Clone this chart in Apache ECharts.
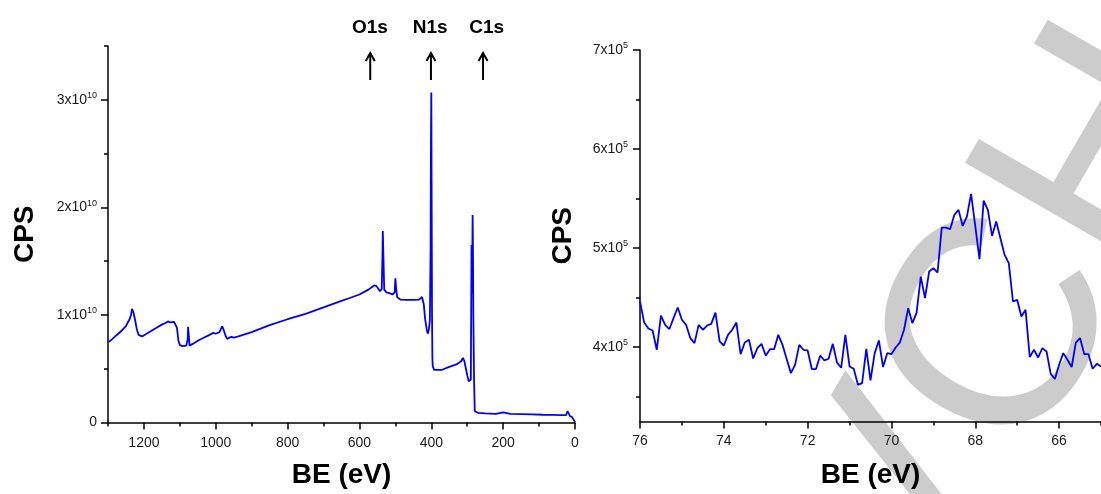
<!DOCTYPE html>
<html><head><meta charset="utf-8">
<script src="https://cdn.jsdelivr.net/npm/echarts@6/dist/echarts.min.js"></script>
<style>html,body{margin:0;padding:0;background:#fff}#c{width:1101px;height:494px}</style>
</head><body><div id="c"></div>
<script>
// ---- Survey spectrum (left) : BE in eV, CPS in units of 1e10
const surveyBE = [1300,1290,1280,1270,1260,1250,1245,1240,1236,1233,1229,1225,1220,1215,1210,1205,1195,1180,1165,1150,1140,1133,1127,1122,1116,1112,1108,1104,1100,1092,1082,1078,1077,1075,1073,1068,1063,1050,1035,1020,1007,1000,996,990,985,982,978,972,968,962,956,950,945,937,900,850,800,750,700,650,629,600,575,565,559,553,548,543,538,536,535,533,531,525,515,508,502,500,498,495,490,485,470,450,434,426,421,417,413,410,407,404,402,401,400,399,398,397,396,392,389,370,350,330,317,312,308,305,300,296,292,290,289,288,287,286,285,284,283,281,279,275,270,250,220,200,198,180,150,120,90,60,40,25,21,17,14,8,3,0];
const surveyCPS = [0.745,0.77,0.80,0.83,0.86,0.895,0.93,0.96,1.00,1.056,1.02,0.96,0.87,0.815,0.80,0.80,0.82,0.85,0.88,0.91,0.925,0.94,0.93,0.915,0.935,0.95,0.88,0.76,0.72,0.71,0.715,0.78,0.89,0.80,0.715,0.72,0.733,0.76,0.785,0.81,0.833,0.825,0.817,0.84,0.875,0.895,0.86,0.80,0.777,0.79,0.796,0.79,0.80,0.80,0.84,0.905,0.96,1.01,1.07,1.13,1.155,1.19,1.235,1.26,1.275,1.27,1.245,1.22,1.24,1.55,1.78,1.50,1.235,1.21,1.20,1.19,1.21,1.34,1.25,1.165,1.15,1.142,1.14,1.14,1.142,1.167,1.10,0.956,0.87,0.826,0.86,0.95,1.6,2.6,3.067,2.0,1.0,0.60,0.523,0.49,0.477,0.49,0.517,0.54,0.569,0.60,0.57,0.523,0.44,0.384,0.368,0.40,1.0,1.65,1.2,1.5,1.93,1.6,1.0,0.4,0.105,0.09,0.09,0.085,0.08,0.095,0.08,0.08,0.078,0.075,0.072,0.07,0.068,0.068,0.105,0.08,0.06,0.05,0.044,0.003];

// ---- Detail spectrum (right) : BE in eV, CPS in units of 1e5
const detailBE = [76.0,75.9,75.8,75.7,75.6,75.5,75.4,75.3,75.2,75.1,75.0,74.9,74.8,74.7,74.6,74.5,74.4,74.3,74.2,74.1,74.0,73.9,73.8,73.7,73.6,73.5,73.4,73.3,73.2,73.1,73.0,72.9,72.8,72.7,72.6,72.5,72.4,72.3,72.2,72.1,72.0,71.9,71.8,71.7,71.6,71.5,71.4,71.3,71.2,71.1,71.0,70.9,70.8,70.7,70.6,70.5,70.4,70.3,70.2,70.1,70.0,69.9,69.8,69.7,69.6,69.5,69.4,69.3,69.2,69.1,69.0,68.9,68.8,68.7,68.6,68.5,68.4,68.3,68.2,68.1,68.0,67.9,67.8,67.7,67.6,67.5,67.4,67.3,67.2,67.1,67.0,66.9,66.8,66.7,66.6,66.5,66.4,66.3,66.2,66.1,66.0,65.9,65.8,65.7,65.6,65.5,65.4,65.3,65.2,65.1,65.0];
const detailCPS = [4.458,4.245,4.185,4.165,3.97,4.316,4.222,4.178,4.29,4.397,4.273,4.222,4.088,4.037,4.222,4.172,4.215,4.232,4.346,4.054,4.013,4.121,4.172,4.245,3.926,4.044,4.071,3.882,3.987,4.030,3.909,3.976,3.976,4.121,4.020,3.876,3.734,3.818,4.020,3.970,3.963,3.775,3.775,3.912,3.862,3.879,4.030,3.841,3.788,4.121,3.801,3.778,3.616,3.633,3.980,3.660,3.936,4.064,3.795,3.936,3.926,3.993,4.043,4.172,4.391,4.239,4.346,4.710,4.492,4.761,4.795,4.751,5.205,5.205,5.189,5.333,5.384,5.222,5.316,5.545,5.22,4.886,5.478,5.384,5.121,5.266,5.098,4.929,4.845,4.458,4.475,4.306,4.374,3.896,3.970,3.892,3.987,3.953,3.727,3.674,3.818,3.936,3.869,3.795,4.043,4.088,3.926,3.926,3.778,3.828,3.80];

// ---- Tick values
const surveyXMajor = [0,200,400,600,800,1000,1200];
const surveyXMinor = [100,300,500,700,900,1100,1300];
const surveyYMajor = [0,1e10,2e10,3e10];
const surveyYMinor = [0.5e10,1.5e10,2.5e10,3.5e10];
const detailXMajor = [66,68,70,72,74,76];
const detailXMinor = [65,67,69,71,73,75];
const detailYMajor = [4e5,5e5,6e5,7e5];
const detailYMinor = [3.5e5,4.5e5,5.5e5,6.5e5];

// ---- Peak annotations
const peakLabels = ['O1s','N1s','C1s'];
const peakLabelBE = [571,403,246];
const peakArrowBE = [570,401,256];

const watermarkText = 'VCH';

const FONT = '"Liberation Sans", Arial, sans-serif';
const BLUE = '#0000ff';

const chart = echarts.init(document.getElementById('c'), null, {renderer:'canvas'});

function sci(exp){
  return v => v === 0 ? '{n|0}' : '{n|' + Math.round(v/Math.pow(10,exp)) + 'x10}{s|' + exp + '}';
}
const richLab = {
  n:{fontSize:14, fontFamily:FONT, color:'#1a1a1a'},
  s:{fontSize:9, fontFamily:FONT, color:'#1a1a1a', padding:[0,0,8,0]}
};
const axisLineStyle = {show:true, onZero:false, lineStyle:{color:'#000', width:1.5}};
const nameStyle = {fontSize:28, fontWeight:'bold', fontFamily:FONT, color:'#000'};

function majorX(grid, min, max, vals, gap, margin){
  return {type:'value', gridIndex:grid, position:'bottom', inverse:true, min:min, max:max,
    axisLine:axisLineStyle, splitLine:{show:false},
    axisTick:{show:true, inside:false, length:7, lineStyle:{color:'#000', width:1.5}, customValues:vals},
    axisLabel:{show:true, margin:margin, fontSize:14, fontFamily:FONT, color:'#1a1a1a', customValues:vals, formatter:v=>String(v)},
    name:'BE (eV)', nameLocation:'middle', nameGap:gap, nameTextStyle:nameStyle};
}
function minorX(grid, min, max, vals){
  return {type:'value', gridIndex:grid, position:'bottom', offset:0, inverse:true, min:min, max:max,
    axisLine:{show:false, onZero:false}, splitLine:{show:false}, axisLabel:{show:false},
    axisTick:{show:true, length:4, lineStyle:{color:'#000', width:1.5}, customValues:vals}};
}
function majorY(grid, min, max, vals, exp, gap, margin){
  return {type:'value', gridIndex:grid, position:'left', min:min, max:max,
    axisLine:axisLineStyle, splitLine:{show:false},
    axisTick:{show:true, length:7, lineStyle:{color:'#000', width:1.5}, customValues:vals},
    axisLabel:{show:true, margin:margin, customValues:vals, formatter:sci(exp), rich:richLab},
    name:'CPS', nameLocation:'middle', nameGap:gap, nameRotate:90, nameTextStyle:nameStyle};
}
function minorY(grid, min, max, vals){
  return {type:'value', gridIndex:grid, position:'left', offset:0, min:min, max:max,
    axisLine:{show:false, onZero:false}, splitLine:{show:false}, axisLabel:{show:false},
    axisTick:{show:true, length:4, lineStyle:{color:'#000', width:1.5}, customValues:vals}};
}

const option = {
  animation:false,
  backgroundColor:'#fff',
  grid:[
    {left:108, right:526, top:46, bottom:71},
    {left:640, right:-1, top:50, bottom:72}
  ],
  xAxis:[
    majorX(0, 0, 1300, surveyXMajor, 38.5, 13.5),
    minorX(0, 0, 1300, surveyXMinor),
    majorX(1, 65, 76, detailXMajor, 39.5, 12.5),
    minorX(1, 65, 76, detailXMinor)
  ],
  yAxis:[
    majorY(0, 0, 3.5e10, surveyYMajor, 10, 68.5, 11),
    minorY(0, 0, 3.5e10, surveyYMinor),
    majorY(1, 3.245e5, 7e5, detailYMajor, 5, 62.5, 12),
    minorY(1, 3.245e5, 7e5, detailYMinor)
  ],
  series:[
    {type:'line', xAxisIndex:0, yAxisIndex:0, showSymbol:false, z:3,
     lineStyle:{color:BLUE, width:1.8},
     data:surveyBE.map((b,i)=>[b, surveyCPS[i]*1e10])},
    {type:'line', xAxisIndex:2, yAxisIndex:2, showSymbol:false, z:3,
     lineStyle:{color:BLUE, width:1.8},
     data:detailBE.map((b,i)=>[b, detailCPS[i]*1e5])}
  ]
};
chart.setOption(option);

// annotations + watermark
const graphics = [];
graphics.push({type:'text', x:853, y:601, rotation:Math.PI/3, z:-1, silent:true,
  style:{text:watermarkText, font:'296px "Liberation Sans", Arial, sans-serif', fill:'#cccccc', align:'left', verticalAlign:'middle'}});
peakLabels.forEach((lab,i)=>{
  const lx = chart.convertToPixel({xAxisIndex:0}, peakLabelBE[i]);
  const ax = chart.convertToPixel({xAxisIndex:0}, peakArrowBE[i]);
  graphics.push({type:'text', x:lx, y:28, z:10,
    style:{text:lab, font:'bold 19px "Liberation Sans", Arial, sans-serif', fill:'#000', align:'center', verticalAlign:'middle'}});
  graphics.push({type:'line', z:10, shape:{x1:ax, y1:80, x2:ax, y2:53}, style:{stroke:'#000', lineWidth:2}});
  graphics.push({type:'polyline', z:10, shape:{points:[[ax-4.5,61],[ax,53],[ax+4.5,61]]}, style:{stroke:'#000', lineWidth:2, fill:null}});
});
chart.setOption({graphic:graphics});
</script>
</body></html>
